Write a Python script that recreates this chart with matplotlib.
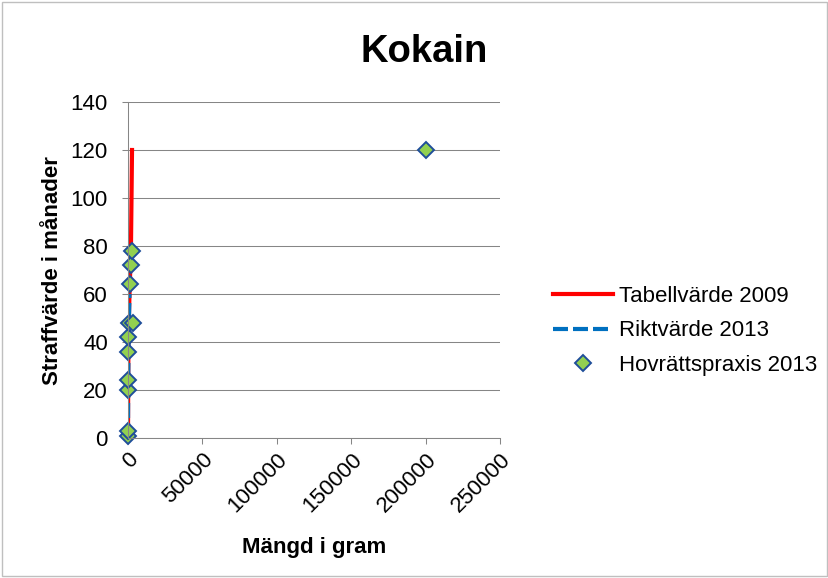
import matplotlib.pyplot as plt
from matplotlib.patches import Rectangle

plt.rcParams['font.family'] = ['Liberation Sans', 'DejaVu Sans']

# Tabellvärde 2009 (gram, månader)
tabell_x = [0, 100, 250, 500, 1000, 2000, 2700]
tabell_y = [0, 20, 36, 48, 60, 80, 120]

# Riktvärde 2013
rikt_x = [0, 50, 150, 300, 600, 1000]
rikt_y = [0, 12, 24, 36, 48, 60]

# Hovrättspraxis 2013
hov_x = [10, 20, 150, 200, 200, 100, 400, 3400, 1100, 2000, 2700, 200000]
hov_y = [1, 3, 20, 24, 36, 42, 48, 48, 64, 72, 78, 120]

W, H = 829, 578
fig = plt.figure(figsize=(W / 100, H / 100), dpi=100)
fig.patches.append(Rectangle((2 / W, 2 / H), 1 - 4 / W, 1 - 4 / H, transform=fig.transFigure,
                             fill=False, edgecolor='#BFBFBF', linewidth=1))
ax = fig.add_axes([128 / W, 1 - 438 / H, (500 - 128) / W, (438 - 102) / H])

ax.plot(tabell_x, tabell_y, color='#FF0000', linewidth=3, label='Tabellvärde 2009')
ax.plot(rikt_x, rikt_y, color='#0070C0', linewidth=3, linestyle=(0, (3.6, 1.2)),
        label='Riktvärde 2013')
ax.plot(hov_x, hov_y, linestyle='none', marker='D', markersize=8.5,
        markerfacecolor='#92D050', markeredgecolor='#1F4E9A', markeredgewidth=1.4,
        label='Hovrättspraxis 2013', clip_on=False)

ax.set_xlim(0, 250000)
ax.set_ylim(0, 140)
ax.set_xticks(range(0, 250001, 50000))
ax.set_yticks(range(0, 141, 20))
ax.tick_params(axis='x', labelsize=16, length=4, width=0.75, color='#868686', pad=4)
ax.tick_params(axis='y', labelsize=16, length=4.5, width=0.75, color='#868686', pad=10)
for lbl in ax.get_xticklabels():
    lbl.set_rotation(45)
    lbl.set_ha('right')
    lbl.set_rotation_mode('anchor')
ax.grid(axis='y', color='#868686', linewidth=0.75)
ax.set_axisbelow(True)
for side in ['top', 'right']:
    ax.spines[side].set_visible(False)
for side in ['left', 'bottom']:
    ax.spines[side].set_color('#868686')
    ax.spines[side].set_linewidth(0.75)

fig.text(53 / W, 1 - 271 / H, 'Straffvärde i månader', fontsize=16, fontweight='bold',
         rotation=90, ha='center', va='center')
fig.text(314 / W, 1 - 553 / H, 'Mängd i gram', fontsize=16, fontweight='bold',
         ha='center', va='baseline')
fig.text(424 / W, 1 - 62 / H, 'Kokain', fontsize=27.5, fontweight='bold',
         ha='center', va='baseline')

ax.legend(loc='center left', bbox_to_anchor=(553 / W, 1 - 331 / H),
          bbox_transform=fig.transFigure, frameon=False, fontsize=16,
          borderpad=0, borderaxespad=0, handlelength=2.7, handletextpad=0.25,
          labelspacing=0.6)

plt.savefig('out.png', dpi=100)
